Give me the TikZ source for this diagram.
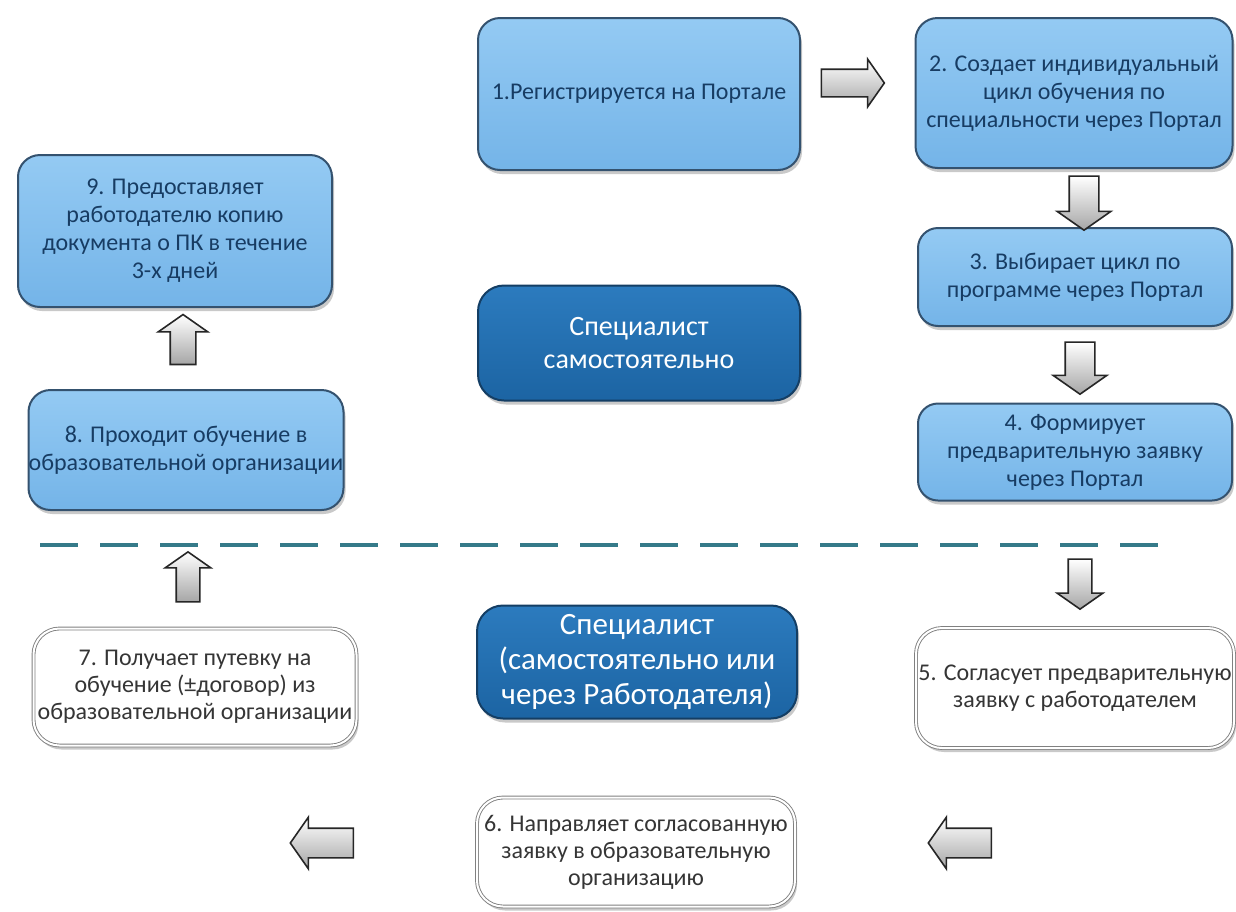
\documentclass[tikz,border=0pt]{standalone}
\usepackage{fontspec}
\setmainfont{Carlito}
\usetikzlibrary{shapes.arrows,shadows}
\definecolor{lb}{HTML}{74B4E8}
\definecolor{lbtop}{HTML}{94CAF3}
\definecolor{lbdraw}{HTML}{34526F}
\definecolor{lbtext}{HTML}{173C63}
\definecolor{db}{HTML}{1C64A3}
\definecolor{dbtop}{HTML}{2C7BBE}
\definecolor{dbdraw}{HTML}{143E64}
\definecolor{wtext}{HTML}{353535}
\definecolor{dashc}{HTML}{357A89}
\tikzset{
  shad/.style={drop shadow={shadow xshift=2pt,shadow yshift=-4pt,opacity=0.35,fill=black!60}},
  lbox/.style={shad, draw=lbdraw, line width=2pt, rounded corners=22pt,
    top color=lbtop, bottom color=lb, text=lbtext, align=center, inner sep=0pt,
    font=\fontsize{24}{28}\selectfont},
  dbox/.style={shad, draw=dbdraw, line width=2pt, rounded corners=26pt,
    top color=dbtop, bottom color=db, text=white, align=center, inner sep=0pt},
  wbox/.style={shad, draw=black!50, line width=0.9pt, double=white, double distance=2pt,
    rounded corners=26pt, fill=white, text=wtext, align=center, inner sep=0pt,
    font=\fontsize{24}{27}\selectfont},
  barrow/.style n args={3}{single arrow, draw=black!85, line width=1.6pt,
    single arrow tip angle=110, single arrow head indent=0pt,
    inner xsep=0pt, inner ysep=#2, minimum width=0pt, minimum height=#1,
    single arrow head extend=#3, top color=white, bottom color=black!35},
}
\begin{document}
\begin{tikzpicture}[x=1pt,y=-1pt]
\useasboundingbox (0,0) rectangle (1236,911);
\fill[white] (0,0) rectangle (1236,911);
% top part
\node[lbox, minimum width=322pt, minimum height=152pt] (b1) at (639,94) {1.Регистрируется на Портале};
\node[lbox, minimum width=317pt, minimum height=150pt] (b2) at (1074,93) {2. Создает индивидуальный\\цикл обучения по\\специальности через Портал};
\node[lbox, rounded corners=20pt, minimum width=314pt, minimum height=98pt] (b3) at (1075,277) {3. Выбирает цикл по\\программе через Портал};
\node[lbox, rounded corners=20pt, minimum width=314pt, minimum height=97pt] (b4) at (1075,452) {4. Формирует\\предварительную заявку\\через Портал};
\node[lbox, minimum width=314pt, minimum height=152pt] (b9) at (175,231) {9. Предоставляет\\работодателю копию\\документа о ПК в течение\\3-х дней};
\node[lbox, minimum width=315pt, minimum height=120pt] (b8) at (186,450) {8. Проходит обучение в\\образовательной организации};
\node[dbox, minimum width=322pt, minimum height=115pt, font=\fontsize{28}{33}\selectfont] (c1) at (639,343) {Специалист\\самостоятельно};
% separator
\coordinate (sepL) at (40,545);
\coordinate (sepR) at (1168,545);
\draw[dashc, line width=4.5pt, dash pattern=on 38pt off 22pt] (sepL) -- (sepR);
% bottom part
\node[dbox, minimum width=320pt, minimum height=113pt, font=\fontsize{31}{35}\selectfont] (c2) at (637,662) {Специалист\\(самостоятельно или\\через Работодателя)};
\node[wbox, minimum width=323pt, minimum height=117pt] (b7) at (195,687) {7. Получает путевку на\\обучение (±договор) из\\образовательной организации};
\node[wbox, minimum width=318pt, minimum height=120pt] (b5) at (1075,688) {5. Согласует предварительную\\заявку с работодателем};
\node[wbox, minimum width=318pt, minimum height=109pt] (b6) at (636,852) {6. Направляет согласованную\\заявку в образовательную\\организацию};
% block arrows
\node[barrow={63pt}{13pt}{10pt}] (a12) at (848,83) {};
\node[barrow={54pt}{14pt}{12pt}, rotate=-90] (a23) at (1084,198) {};
\node[barrow={52pt}{14pt}{12pt}, rotate=-90] (a34) at (1080,363) {};
\node[barrow={50pt}{11pt}{11pt}, rotate=-90] (a45) at (1080,580) {};
\node[barrow={63pt}{14pt}{11pt}, rotate=180] (a56) at (965,843) {};
\node[barrow={63pt}{14pt}{11pt}, rotate=180] (a67) at (327,843) {};
\node[barrow={50pt}{11pt}{11pt}, rotate=90] (a78) at (188,581) {};
\node[barrow={50pt}{12pt}{12pt}, rotate=90] (a89) at (183,344) {};
\end{tikzpicture}
\end{document}
